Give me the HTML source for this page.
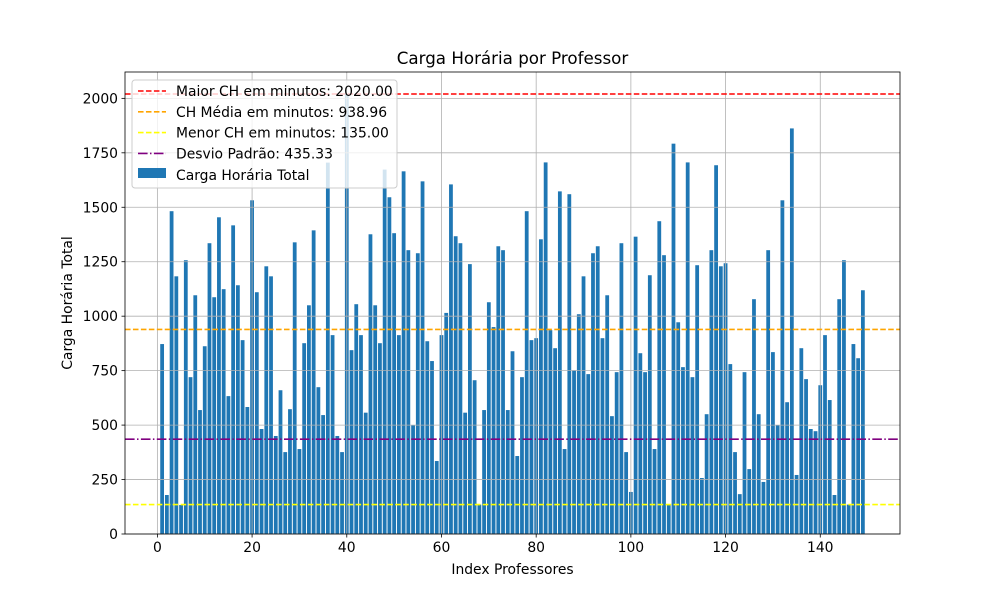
<!DOCTYPE html>
<html><head><meta charset="utf-8"><style>
body{margin:0;background:#fff}
svg{display:block;font-family:"DejaVu Sans","Liberation Sans",sans-serif}
</style></head><body>
<svg id="chart" width="1000" height="600"></svg>
<script>
const values = [872,179,1482,1183,133,1257,720,1096,569,862,1335,1087,1454,1124,633,1417,1142,890,583,1532,1110,482,1229,1183,450,660,376,573,1339,390,876,1050,1394,674,546,1705,913,450,376,2020,844,1055,913,557,1376,1050,876,1673,1546,1381,913,1665,1303,498,1289,1619,885,794,335,913,1015,1605,1367,1335,557,1239,706,135,569,1064,950,1321,1303,569,839,358,720,1482,890,899,1353,1706,936,853,1573,390,1560,752,1009,1183,734,1289,1321,899,1096,541,743,1335,376,193,1365,830,743,1188,390,1436,1280,135,1792,972,766,1706,720,1234,257,550,1303,1693,1229,1243,780,376,183,743,298,1078,550,239,1303,835,498,1532,605,1862,271,853,711,482,472,683,913,615,179,1078,1257,135,872,807,1119];
const firstIndex = 1;
const xTicks = [0,20,40,60,80,100,120,140];
const yTicks = [0,250,500,750,1000,1250,1500,1750,2000];
const refValues = [2020.00, 938.96, 135.00, 435.33];
const refLabels = ["Maior CH em minutos: 2020.00","CH Média em minutos: 938.96","Menor CH em minutos: 135.00","Desvio Padrão: 435.33"];
const refColors = ["#ff0000","#ffa500","#ffff00","#800080"];
const refDash = ["5.55,2.4","5.55,2.4","5.55,2.4","9.6,2.4,1.5,2.4"];

const svg = document.getElementById('chart');
const NS = 'http://www.w3.org/2000/svg';
const L=125,R=900,T=72,B=534;
const FS=13.9;
const n=values.length;
const dMin=firstIndex-0.4, dMax=firstIndex+n-1+0.4, span=dMax-dMin;
const xMin=dMin-0.05*span, xMax=dMax+0.05*span;
const yMax=Math.max(...values)*1.05;
const xs=v=>L+(v-xMin)/(xMax-xMin)*(R-L);
const ys=v=>B-v/yMax*(B-T);
function mk(tag,attrs,parent){const e=document.createElementNS(NS,tag);for(const k in attrs)e.setAttribute(k,attrs[k]);(parent||svg).appendChild(e);return e;}

const bars=mk('g',{});


values.forEach((v,i)=>{
  const x=xs(firstIndex+i-0.4), w=xs(firstIndex+i+0.4)-x;
  const r=mk('rect',{x:x,y:ys(v),width:w,height:B-ys(v),fill:'#1f77b4'},bars);
  
  
});
const grid=mk('g',{stroke:'#b0b0b0','stroke-width':0.8});


xTicks.forEach(t=>mk('line',{x1:xs(t),x2:xs(t),y1:T,y2:B},grid));
yTicks.forEach(t=>mk('line',{x1:L,x2:R,y1:ys(t),y2:ys(t)},grid));
refValues.forEach((v,i)=>{
  const l=mk('line',{x1:L,x2:R,y1:ys(v),y2:ys(v),stroke:refColors[i],'stroke-width':1.6,'stroke-dasharray':refDash[i]});
  
  
});
const frame=mk('rect',{x:L,y:T,width:R-L,height:B-T,fill:'none',stroke:'#000','stroke-width':0.8});


xTicks.forEach(t=>{
  mk('line',{x1:xs(t),x2:xs(t),y1:B,y2:B+3.5,stroke:'#000','stroke-width':0.8});
  const tx=mk('text',{x:xs(t),y:B+18,'font-size':FS,'text-anchor':'middle'});tx.textContent=t;
  
  
});
yTicks.forEach(t=>{
  mk('line',{x1:L-3.5,x2:L,y1:ys(t),y2:ys(t),stroke:'#000','stroke-width':0.8});
  const tx=mk('text',{x:L-7,y:ys(t)+5,'font-size':FS,'text-anchor':'end'});tx.textContent=t;
  
  
});
const title=mk('text',{x:(L+R)/2,y:64,'font-size':16.7,'text-anchor':'middle'});title.textContent='Carga Horária por Professor';


const xl=mk('text',{x:(L+R)/2,y:574,'font-size':FS,'text-anchor':'middle'});xl.textContent='Index Professores';


const yl=mk('text',{x:0,y:0,'font-size':FS,'text-anchor':'middle',transform:'translate(72,303) rotate(-90)'});yl.textContent='Carga Horária Total';



const lg=mk('g',{});


mk('rect',{x:132,y:80,width:265,height:108,rx:3,fill:'#fff','fill-opacity':0.8,stroke:'#cccccc','stroke-width':1},lg);
refLabels.forEach((s,i)=>{
  const y=91+i*20.8;
  mk('line',{x1:138,x2:166,y1:y,y2:y,stroke:refColors[i],'stroke-width':1.6,'stroke-dasharray':refDash[i]},lg);
  const t=mk('text',{x:176,y:y+5,'font-size':FS},lg);t.textContent=s;
  
  
});
mk('rect',{x:138,y:168,width:28,height:10,fill:'#1f77b4'},lg);
const lt=mk('text',{x:176,y:180,'font-size':FS},lg);lt.textContent='Carga Horária Total';


</script>
</body></html>
